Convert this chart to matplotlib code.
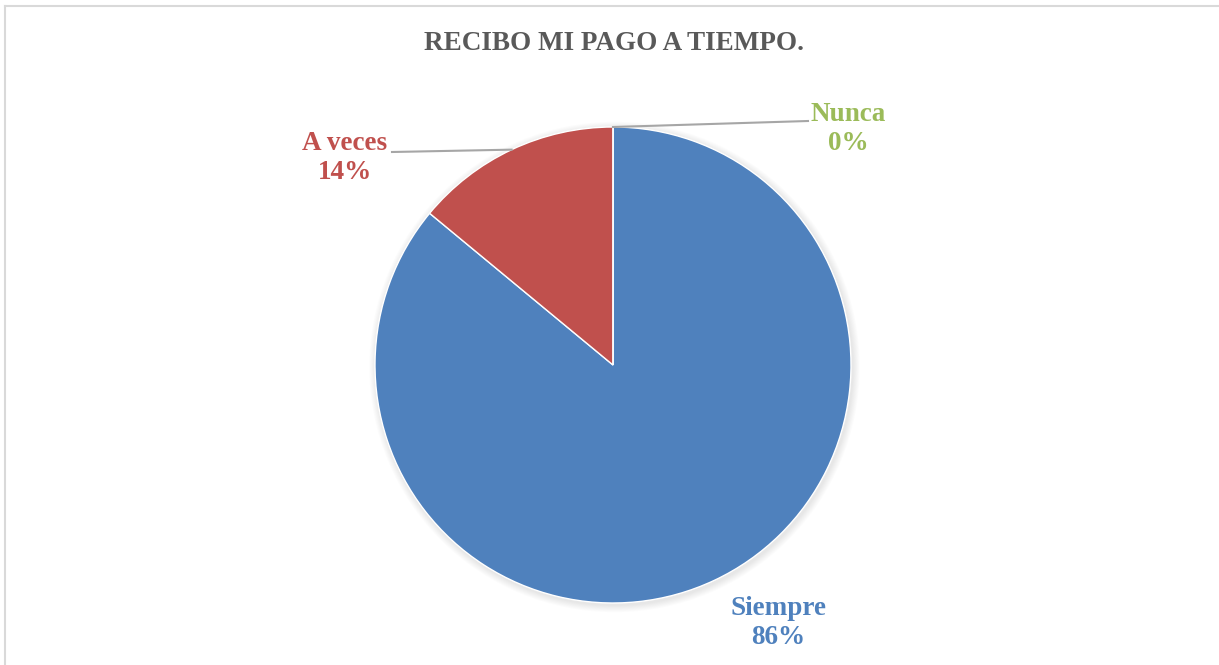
import numpy as np
import matplotlib.pyplot as plt
from matplotlib.patches import Circle

labels = ["Siempre", "A veces", "Nunca"]
values = [86, 14, 0]
colors = ["#4F81BD", "#C0504D", "#9BBB59"]
title = "RECIBO MI PAGO A TIEMPO."

W, H = 1219, 665
cx, cy, r = 613, H - 365, 238

plt.rcParams["font.family"] = ["Liberation Serif", "DejaVu Serif"]

fig = plt.figure(figsize=(W / 100, H / 100), dpi=100)
ax = fig.add_axes([0, 0, 1, 1])

# soft drop shadow under the pie
for k in range(8):
    ax.add_patch(Circle((cx + 1.5, cy - 2), r + 1 + k * 0.9, color="black",
                        alpha=0.012, lw=0, zorder=0))

wedges, _ = ax.pie(values, colors=colors, startangle=90, counterclock=False,
                   center=(cx, cy), radius=r,
                   wedgeprops=dict(edgecolor="white", linewidth=1.0))
for w in wedges:
    w.set_zorder(2)

ax.set_xlim(0, W)
ax.set_ylim(0, H)
ax.set_aspect("equal")
ax.axis("off")

# frame: top and left edges
ax.plot([4.5, W], [H - 5.5, H - 5.5], color="#D9D9D9", lw=1.5, zorder=1)
ax.plot([4.5, 4.5], [0, H - 5.5], color="#D9D9D9", lw=1.5, zorder=1)

ax.text(W / 2 + 4, H - 44, title, ha="center", va="center",
        fontsize=19.5, fontweight="bold", color="#595959")

# label positions (pixel coords, top-origin) and leader end points
label_pos = {"Siempre": (778, 623), "A veces": (345, 158), "Nunca": (848, 129)}
leader_end = {"A veces": (392, 152), "Nunca": (808, 121)}

for w, lab, val, col in zip(wedges, labels, values, colors):
    lx, ly = label_pos[lab]
    ax.text(lx, H - ly, f"{lab}\n{val}%", ha="center", va="center",
            fontsize=19.5, fontweight="bold", color=col, linespacing=1.22,
            zorder=4)
    if lab in leader_end:
        ang = np.deg2rad((w.theta1 + w.theta2) / 2)
        px, py = cx + r * np.cos(ang), cy + r * np.sin(ang)
        ex, ey = leader_end[lab]
        ax.plot([px, ex], [py, H - ey], color="#A6A6A6", lw=1.5, zorder=3)

fig.savefig("out.png", dpi=100, facecolor="white")
